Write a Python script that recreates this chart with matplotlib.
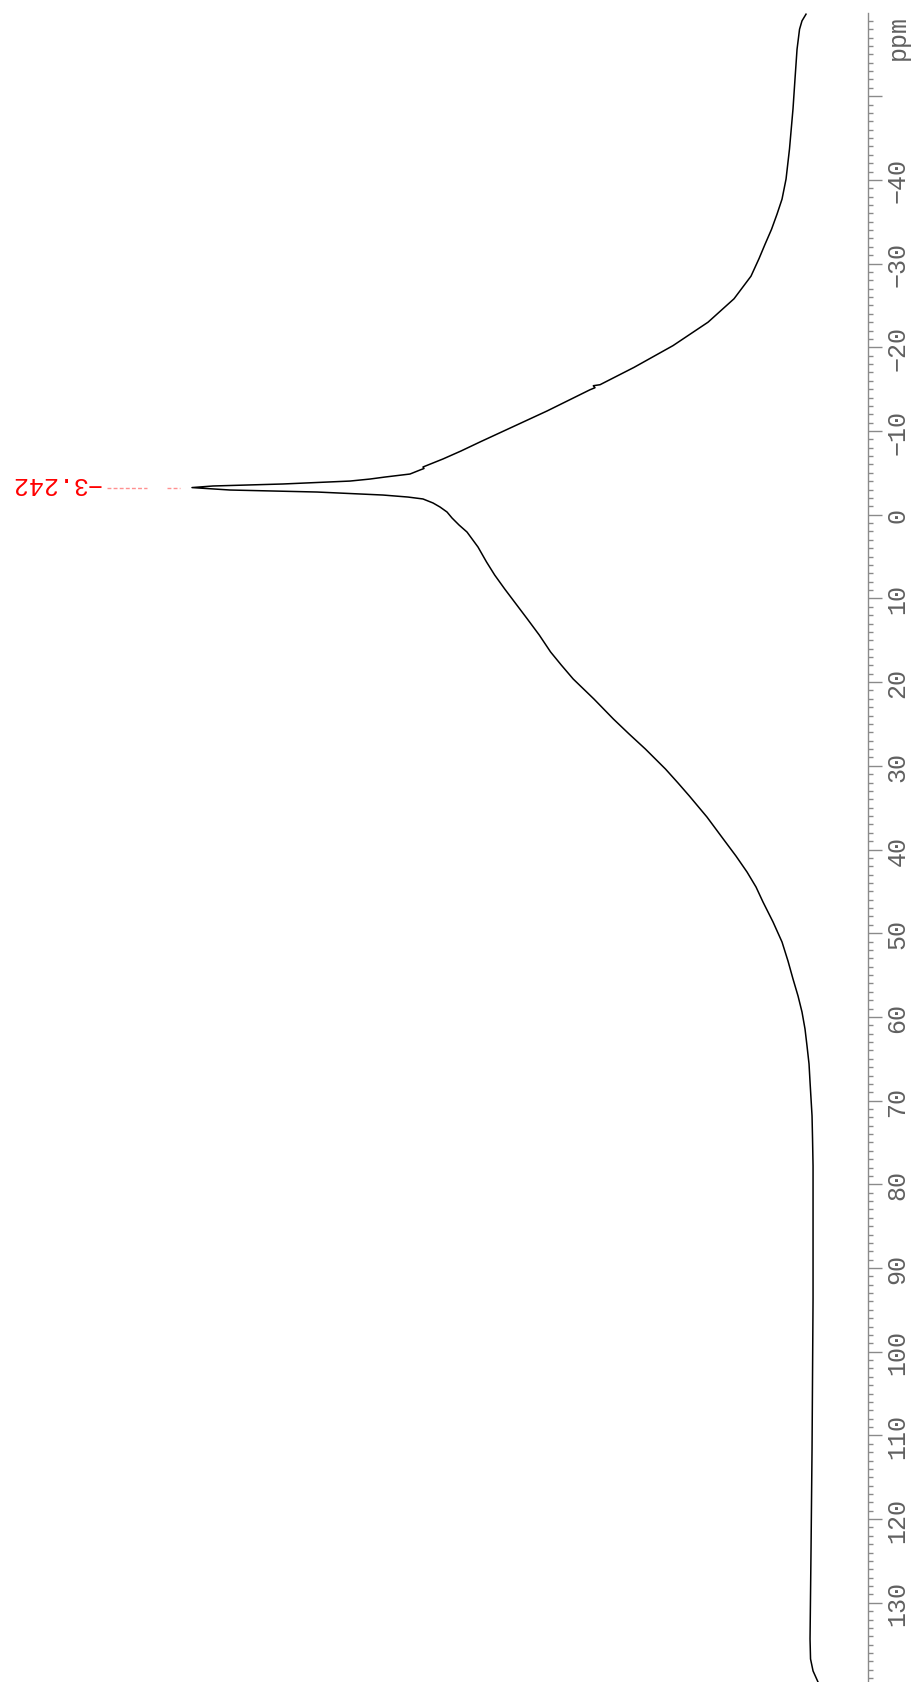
import matplotlib
matplotlib.use("Agg")
import matplotlib.pyplot as plt
import numpy as np

# chemical shift (ppm) and relative intensity of the spectrum trace
ppm = [-59.8, -59.0, -58.0, -55.6, -52.1, -48.5, -43.7, -40.1, -37.7, -35.9,
       -34.1, -32.3, -30.6, -28.5, -25.8, -23.0, -20.2, -17.6, -15.53, -15.41,
       -15.17, -14.93, -12.39, -8.69, -7.61, -6.66, -5.94, -5.70, -5.52, -5.34,
       -4.86, -4.50, -4.26, -4.02, -3.67, -3.43, -3.242, -2.95, -2.71, -2.35,
       -2.11, -1.88, -1.40, -0.92, -0.32, 0.39, 1.23, 2.07, 3.86, 5.65,
       7.21, 8.88, 10.67, 12.46, 14.38, 16.40, 17.96, 19.63, 22.02, 24.41,
       26.20, 28.00, 30.39, 32.06, 33.61, 36.12, 38.75, 40.78, 42.69, 44.48,
       46.27, 48.66, 51.05, 53.32, 55.47, 57.50, 59.41, 61.44, 63.47, 65.62,
       67.77, 69.80, 71.83, 74.58, 77.81, 93.70, 111.62, 123.57, 134.32, 136.71,
       138.14, 139.46]
intensity = [2.23, 2.87, 3.26, 3.66, 3.98, 4.30, 4.86, 5.41, 6.05, 6.85,
             7.72, 8.76, 9.71, 10.99, 13.69, 17.83, 23.41, 29.62, 35.03, 36.10,
             35.83, 36.62, 43.47, 54.14, 57.17, 60.03, 62.42, 63.22, 63.06, 63.69,
             65.29, 69.27, 71.66, 74.84, 85.51, 96.66, 100.0, 93.95, 80.10, 69.59,
             65.61, 63.22, 61.62, 60.51, 59.39, 58.60, 57.48, 56.21, 54.46, 53.10,
             51.80, 50.20, 48.40, 46.60, 44.70, 42.90, 41.20, 39.30, 36.00, 32.90,
             30.40, 27.80, 24.60, 22.60, 20.80, 18.00, 15.40, 13.38, 11.62, 10.19,
             9.08, 7.48, 6.05, 5.10, 4.30, 3.50, 2.87, 2.39, 2.07, 1.75,
             1.59, 1.43, 1.27, 1.19, 1.11, 1.11, 1.27, 1.43, 1.59, 1.51,
             1.11, 0.32]

peak_ppm = -3.242
peak_label = "\u22123.242"

major_ticks = np.arange(-50, 140, 10)
minor_ticks = np.arange(-59, 140, 1)

mono = "Liberation Mono"
axis_grey = "#8a8a8a"
label_grey = "#606060"

fig = plt.figure(figsize=(9.2, 16.83), dpi=100)
ax = fig.add_axes([0, 0, 868 / 920, 1669 / 1683])

ax.plot(intensity, ppm, color="black", lw=1.1)

ax.set_xlim(130.57, -7.64)
ax.set_ylim(139.46, -59.94)

for s in ("top", "left", "bottom"):
    ax.spines[s].set_visible(False)
ax.spines["right"].set_color(axis_grey)
ax.spines["right"].set_linewidth(1.0)
ax.set_xticks([])

ax.yaxis.tick_right()
ax.set_yticks(major_ticks)
ax.set_yticks(minor_ticks, minor=True)
ax.set_yticklabels(["" if t == -50 else str(t).replace("-", "\u2212")
                    for t in major_ticks],
                   rotation=90, va="center", family=mono, fontsize=18,
                   color=label_grey)
ax.tick_params(axis="y", which="major", length=10, width=1.0,
               color=axis_grey, pad=2.5)
ax.tick_params(axis="y", which="minor", length=3.6, width=1.0,
               color=axis_grey)

ax.text(1.0 + 30 / 868, -57.1, "ppm", transform=ax.get_yaxis_transform(),
        rotation=90, ha="center", va="center", family=mono, fontsize=18,
        color=label_grey)

# peak pick label with its leader
ax.plot([113.5, 107.2], [peak_ppm, peak_ppm], color="#ff9090", lw=1.0,
        ls=(0, (2.8, 1.6)))
ax.plot([104.0, 101.9], [peak_ppm, peak_ppm], color="#ff9090", lw=1.0,
        ls=(0, (2.8, 1.6)))
ax.text(114.6, -4.63, peak_label, rotation=180, rotation_mode="anchor",
        ha="left", va="baseline", family=mono, fontsize=18, color="red")

fig.savefig("out.png", dpi=100)
